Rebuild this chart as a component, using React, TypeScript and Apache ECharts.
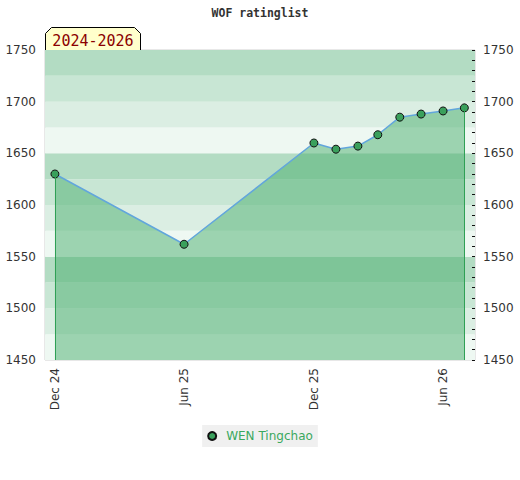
import React, { useEffect, useRef } from "react";
import * as echarts from "echarts";

const months = ["2024-12", "2025-06", "2025-12", "2026-01", "2026-02", "2026-03", "2026-04", "2026-05", "2026-06", "2026-07"];
const ratings = [1630, 1562, 1660, 1654, 1657, 1668, 1685, 1688, 1691, 1694];
const tickMonths = ["2024-12", "2025-06", "2025-12", "2026-06"];
const tickLabels = ["Dec 24", "Jun 25", "Dec 25", "Jun 26"];
const playerName = "WEN Tingchao";
const periodLabel = "2024-2026";
const titleText = "WOF ratinglist";
const yMin = 1450;
const yMax = 1750;
const xMinDate = "2024-11-17";
const xMaxDate = "2026-07-16";
const bandColors = ["#eef8f2", "#dbeee3", "#c8e6d4", "#b3dcc3"];

function monthTs(m: string): number {
  const [y, mo] = m.split("-").map(Number);
  return Date.UTC(y, mo - 1, 1);
}
function dayTs(d: string): number {
  const [y, mo, da] = d.split("-").map(Number);
  return Date.UTC(y, mo - 1, da);
}

export default function App() {
  const ref = useRef<HTMLDivElement>(null);
  useEffect(() => {
    document.body.style.margin = "0";
    if (!ref.current) return;
    const chart = echarts.init(ref.current, null, { renderer: "svg" });
    const data = months.map((m, i) => [monthTs(m), ratings[i]]);
    const tickVals = tickMonths.map(monthTs);
    const first = data[0];
    const last = data[data.length - 1];
    chart.setOption({
      animation: false,
      title: {
        text: titleText,
        left: "center",
        top: 2,
        textStyle: { fontFamily: "DejaVu Sans Mono", fontSize: 11.5, fontWeight: "bold", color: "#333" },
      },
      grid: { left: 45, right: 45, top: 50, bottom: 120, show: true, borderColor: "#d0d0d0", borderWidth: 1 },
      legend: {
        bottom: 33,
        left: "center",
        backgroundColor: "#f0f0f0",
        padding: [5, 5, 5, 5],
        itemWidth: 8,
        itemHeight: 8,
        itemGap: 10,
        textStyle: { color: "#3aa85e", fontSize: 12, fontFamily: "DejaVu Sans", padding: [0, 0, 0, 5] },
        data: [{ name: playerName, icon: "circle" }],
      },
      xAxis: {
        type: "value",
        min: dayTs(xMinDate),
        max: dayTs(xMaxDate),
        axisLine: { show: false },
        axisTick: { show: false },
        splitLine: { show: false },
        axisLabel: {
          customValues: tickVals,
          rotate: 90,
          margin: 8,
          color: "#333",
          fontSize: 12,
          fontFamily: "DejaVu Sans",
          formatter: (v: number) => {
            const idx = tickVals.indexOf(v);
            return idx >= 0 ? tickLabels[idx] : "";
          },
        },
      },
      yAxis: [
        {
          type: "value",
          min: yMin,
          max: yMax,
          interval: 25,
          position: "left",
          axisLine: { show: false },
          axisTick: { show: false },
          splitLine: { show: false },
          splitArea: { show: true, areaStyle: { color: bandColors } },
          axisLabel: {
            margin: 9,
            color: "#333",
            fontSize: 12,
            fontFamily: "DejaVu Sans",
            formatter: (v: number) => (v % 50 === 0 ? String(v) : ""),
          },
        },
        {
          type: "value",
          min: yMin,
          max: yMax,
          interval: 10,
          position: "right",
          axisLine: { show: false },
          axisTick: { show: true, inside: true, length: 3, lineStyle: { color: "#111" } },
          splitLine: { show: false },
          axisLabel: {
            margin: 8,
            color: "#333",
            fontSize: 12,
            fontFamily: "DejaVu Sans",
            formatter: (v: number) => (v % 50 === 0 ? String(v) : ""),
          },
        },
      ],
      series: [
        {
          name: playerName,
          type: "line",
          yAxisIndex: 0,
          data,
          symbol: "circle",
          symbolSize: 8,
          itemStyle: { color: "#3aa05c", borderColor: "#111", borderWidth: 1 },
          lineStyle: { color: "#62a6dc", width: 1.5 },
          areaStyle: { origin: "start", color: "rgb(74,174,110)", opacity: 0.5 },
          markLine: {
            silent: true,
            symbol: "none",
            label: { show: false },
            lineStyle: { color: "#2fa055", width: 1, type: "solid", opacity: 1 },
            data: [
              [{ coord: [first[0], first[1]] }, { coord: [first[0], yMin] }],
              [{ coord: [last[0], last[1]] }, { coord: [last[0], yMin] }],
            ],
          },
          z: 3,
        },
      ],
      graphic: [
        {
          type: "group",
          left: 45,
          top: 27,
          children: [
            {
              type: "polygon",
              shape: { points: [[0, 23], [0, 6], [6, 0], [89, 0], [95, 6], [95, 23]] },
              style: { fill: "#ffffcc", stroke: "#000", lineWidth: 1 },
            },
            {
              type: "text",
              x: 47.5,
              y: 13,
              style: {
                text: periodLabel,
                fill: "#8b0000",
                fontSize: 15,
                fontFamily: "DejaVu Sans Mono",
                align: "center",
                verticalAlign: "middle",
              },
            },
          ],
        },
      ],
    });
    return () => chart.dispose();
  }, []);
  return <div ref={ref} style={{ width: 520, height: 480 }} />;
}
